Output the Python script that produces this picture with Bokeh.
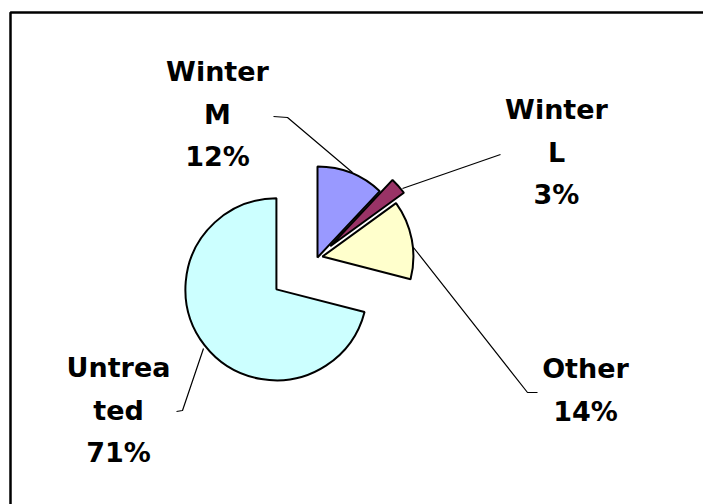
import math
from bokeh.plotting import figure
from bokeh.models import Range1d, ColumnDataSource
from bokeh.core.properties import value
from bokeh.embed import file_html
from bokeh.resources import INLINE

# ---- data ----
categories = ["Winter M", "Winter L", "Other", "Untreated"]
percents = [12, 3, 14, 71]
label_lines = [["Winter", "M", "12%"], ["Winter", "L", "3%"], ["Other", "14%"], ["Untrea", "ted", "71%"]]
colors = ["#9999FF", "#993366", "#FFFFCC", "#CCFFFF"]

# ---- layout (pixel coordinates of the picture) ----
W, H = 703, 504
CX, CY, R = 317, 257, 91
explode = [0, 17, 5, 52]
label_pos = [(217, 71), (556, 109), (585, 368), (118, 367)]
line_gap = 42.5
leaders = [
    [(273, 116), (287, 117), (352, 172)],
    [(500, 154), (402, 188)],
    [(537, 392), (527, 392), (413, 247)],
    [(203, 348), (182, 410), (176, 411)],
]

def Y(py):
    return H - py

p = figure(width=W, height=H, output_backend="svg",
           toolbar_location=None, min_border=0,
           x_range=Range1d(0, W), y_range=Range1d(0, H))
p.axis.visible = False
p.grid.visible = False
p.outline_line_color = None
p.background_fill_color = "white"
p.border_fill_color = "white"

# frame
p.line([10, 10, W + 5], [Y(H + 5), Y(12), Y(12)], line_color="black", line_width=2.5)

total = float(sum(percents))
xs, ys, sa, ea = [], [], [], []
cum = 0.0
for v, d in zip(percents, explode):
    a0 = 90 - 360 * cum / total
    a1 = 90 - 360 * (cum + v) / total
    mid = math.radians((a0 + a1) / 2)
    xs.append(CX + d * math.cos(mid))
    ys.append(Y(CY) + d * math.sin(mid))
    sa.append(math.radians(a1))
    ea.append(math.radians(a0))
    cum += v

src = ColumnDataSource(dict(x=xs, y=ys, start=sa, end=ea, color=colors, cat=categories))
p.wedge(x="x", y="y", radius=R, start_angle="start", end_angle="end",
        fill_color="color", line_color="black", line_width=2, source=src)

for pts in leaders:
    p.line([q[0] for q in pts], [Y(q[1]) for q in pts], line_color="black", line_width=1.2)

tx, ty, tt = [], [], []
for lines, (lx, ly) in zip(label_lines, label_pos):
    for i, s in enumerate(lines):
        tx.append(lx)
        ty.append(Y(ly + i * line_gap))
        tt.append(s)
p.text(x=tx, y=ty, text=tt, text_align="center", text_baseline="middle",
       text_font=value("DejaVu Sans"), text_font_style="bold",
       text_font_size="27px", text_color="black")

open("out.html", "w").write(file_html(p, INLINE))
